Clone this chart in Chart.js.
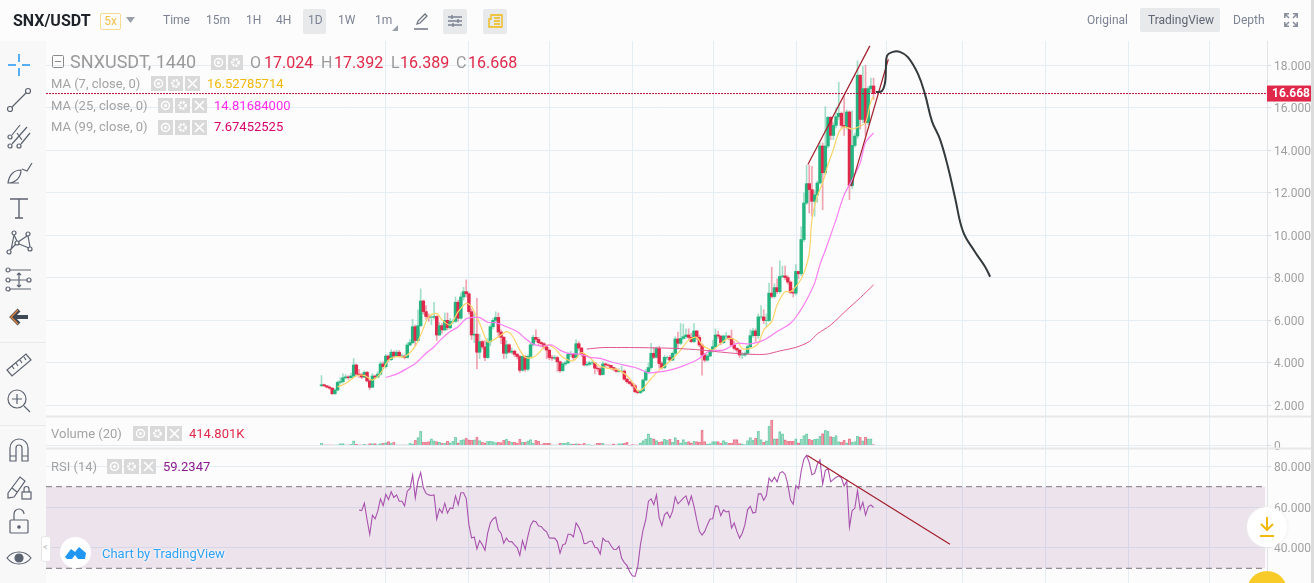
<!DOCTYPE html>
<html>
<head>
<meta charset="utf-8">
<title>SNX/USDT</title>
<script src="https://cdn.jsdelivr.net/npm/chart.js@4/dist/chart.umd.js"></script>
<style>
    html, body { margin: 0; padding: 0; background: #fcfcfc; overflow: hidden; }
    body { width: 1314px; height: 583px; position: relative; font-family: Roboto, "Noto Sans", sans-serif; }
    #chartCanvas { position: absolute; left: 0; top: 0; }
    .txt { position: absolute; white-space: nowrap; line-height: 1; }
    .top { color: #7b8394; font-size: 12px; top: 14px; }
    .box { position: absolute; border-radius: 2px; background: #e8e9eb; }
    .lbl { color: #a3a3a3; font-size: 13px; }
    .ohlc { font-size: 16px; color: #e0294a; top: 55px; }
    .ohlcKey { font-size: 16px; color: #9a9a9a; top: 55px; }
    .btn { position: absolute; width: 15px; height: 15px; background: #d9d9d9; }
    .btn svg { display: block; }
    #toolbar { position: absolute; left: 0; top: 41px; width: 46px; height: 542px; background: #f8f8f8; }
    #toolbar svg { position: absolute; left: 5px; width: 28px; height: 28px; fill: none; stroke: #5b6270; stroke-width: 1.2; }
    #toolbar hr { position: absolute; left: 0; width: 46px; margin: 0; border: 0; border-top: 1px solid #e9e9e9; }
    #scrollbar { position: absolute; left: 1311px; top: 0; width: 3px; height: 583px; background: #dcdcdc; }
</style>
</head>
<body>

<canvas id="chartCanvas" width="1314" height="583"></canvas>

<!-- top bar -->
<span class="txt" style="left:13px;top:13px;font-size:16px;font-weight:700;color:#1e2329">SNX/USDT</span>
<span class="txt" style="left:100px;top:13px;width:19px;height:15px;border:1px solid #f6dc8e;border-radius:2px;color:#f0c14b;font-size:12px;line-height:15px;text-align:center">5x</span>
<svg style="position:absolute;left:126px;top:17px" width="9" height="6"><path d="M0 0h9L4.5 6z" fill="#9aa0ab"/></svg>
<span class="txt top" style="left:163px">Time</span>
<span class="txt top" style="left:206px">15m</span>
<span class="txt top" style="left:246px">1H</span>
<span class="txt top" style="left:276px">4H</span>
<span class="box" style="left:303px;top:9px;width:23px;height:25px"></span>
<span class="txt top" style="left:308px">1D</span>
<span class="txt top" style="left:338px">1W</span>
<span class="txt top" style="left:375px">1m</span>
<svg style="position:absolute;left:392px;top:25px" width="6" height="6"><path d="M6 0v6H0z" fill="#9aa0ab"/></svg>
<svg style="position:absolute;left:412px;top:12px" width="18" height="18" fill="none" stroke="#6f7683" stroke-width="1.3"><path d="M5 12l1-3 7-7 2 2-7 7zM2 17h14"/></svg>
<span class="box" style="left:443px;top:9px;width:24px;height:25px"></span>
<svg style="position:absolute;left:447px;top:13px" width="16" height="16" stroke="#7b8394" stroke-width="1.4"><path d="M1 4h14M1 8h14M1 12h14"/><path d="M5 2v4M11 6v4M6 10v4" /></svg>
<span class="box" style="left:483px;top:9px;width:24px;height:25px"></span>
<svg style="position:absolute;left:487px;top:13px" width="16" height="16" fill="none" stroke="#f0b90b" stroke-width="1.3"><path d="M4 2h11v12H2V6h2zM7 5h6M7 8h6M7 11h6"/></svg>
<span class="txt top" style="left:1087px">Original</span>
<span class="box" style="left:1140px;top:8px;width:80px;height:24px"></span>
<span class="txt top" style="left:1148px;color:#5e6673">TradingView</span>
<span class="txt top" style="left:1233px">Depth</span>
<svg style="position:absolute;left:1284px;top:13px" width="14" height="14" fill="none" stroke="#8a909c" stroke-width="1.6"><path d="M0.8 5V0.8H5M9 0.8h4.2V5M13.2 9v4.2H9M5 13.2H0.8V9M1 1l4 4M13 1L9 5M13 13L9 9M1 13l4-4"/></svg>

<!-- drawing tools on the left -->
<div id="toolbar">
    <svg style="top:10px" viewBox="0 0 28 28" ><path d="M14 3v8M14 17v8M3 14h8M17 14h8" stroke="#2196f3" stroke-width="1.5"/></svg>
    <svg style="top:45px" viewBox="0 0 28 28"><circle cx="5" cy="23" r="2.5"/><circle cx="23" cy="5" r="2.5"/><path d="M7 21L21 7"/></svg>
    <svg style="top:81px" viewBox="0 0 28 28"><circle cx="5" cy="15" r="2"/><circle cx="5" cy="24" r="2"/><circle cx="14" cy="24" r="2"/><path d="M7 13L15 3M7 22L22 5M16 22L25 11M12 11l5 7"/></svg>
    <svg style="top:117px" viewBox="0 0 28 28"><path d="M3 25c1-8 6-13 13-13 0 7-5 13-13 13zM3 25h11M17 11l5 2 5-8"/></svg>
    <svg style="top:153px" viewBox="0 0 28 28"><path d="M5 5h18M14 5v19M10 24h8" stroke-width="1.4"/></svg>
    <svg style="top:188px" viewBox="0 0 28 28"><circle cx="9" cy="4" r="2"/><circle cx="23" cy="5" r="2"/><circle cx="4" cy="23" r="2"/><circle cx="25" cy="20" r="2"/><circle cx="12" cy="14" r="2"/><path d="M9 6l3 6M22 7l-9 6M6 21L9 6M14 15l10 4M23 7l2 11M5 21l6-6"/></svg>
    <svg style="top:225px" viewBox="0 0 28 28"><circle cx="3" cy="4" r="2"/><circle cx="3" cy="14" r="2"/><circle cx="3" cy="23" r="2"/><circle cx="24" cy="14" r="2"/><path d="M5 4h21M5 14h17M5 23h21M14 7v14M12 9l2-2 2 2M12 19l2 2 2-2"/></svg>
    <svg style="top:262px" viewBox="0 0 28 28"><path d="M23 14H9M14 7l-7 7 7 7" stroke="#3f4855" stroke-width="4"/><path d="M14 7l-7 7 7 7" stroke="#e8853c" stroke-width="1.4" transform="translate(-1 0)"/></svg>
    <hr style="top:301px">
    <svg style="top:309px" viewBox="0 0 28 28"><path d="M2 20L21 4l5 6L7 26zM7 16l2 3M11 13l2 3M15 10l2 3M19 7l2 3"/></svg>
    <svg style="top:345px" viewBox="0 0 28 28"><circle cx="12" cy="13" r="9"/><path d="M12 8v10M7 13h10M19 20l6 6"/></svg>
    <hr style="top:384px">
    <svg style="top:395px" viewBox="0 0 28 28"><path d="M5 25V12a9 9 0 0 1 18 0v13h-6V12a3 3 0 0 0-6 0v13zM5 20h6M17 20h6"/></svg>
    <svg style="top:431px" viewBox="0 0 28 28"><path d="M3 21L15 5l5 4L9 25l-6 1zM7 16l5 4"/><rect x="17" y="20" width="9" height="7"/><path d="M19 20v-3a2.5 2.5 0 0 1 5 0v3"/></svg>
    <svg style="top:466px" viewBox="0 0 28 28"><rect x="5" y="13" width="18" height="13" rx="1"/><path d="M9 13V7a5 5 0 0 1 10 0"/><circle cx="14" cy="20" r="1.2" fill="#5b6270"/></svg>
    <svg style="top:503px" viewBox="0 0 28 28"><path d="M2 14c6-8 18-8 24 0-6 8-18 8-24 0z"/><circle cx="14" cy="14" r="4" fill="#5b6270"/></svg>
</div>

<!-- pane legends -->
<svg style="position:absolute;left:52px;top:55px" width="12" height="13" fill="none" stroke="#8a8a8a"><rect x="0.5" y="0.5" width="11" height="12" rx="1"/><path d="M3 6.5h6"/></svg>
<span class="txt" style="left:70px;top:53px;font-size:18px;color:#9a9a9a">SNXUSDT, 1440</span>
<span class="txt ohlcKey" style="left:250px">O</span><span class="txt ohlc" style="left:264px">17.024</span>
<span class="txt ohlcKey" style="left:321px">H</span><span class="txt ohlc" style="left:334px">17.392</span>
<span class="txt ohlcKey" style="left:391px">L</span><span class="txt ohlc" style="left:400px">16.389</span>
<span class="txt ohlcKey" style="left:456px">C</span><span class="txt ohlc" style="left:468px">16.668</span>

<span class="txt lbl" style="left:51px;top:77px">MA (7, close, 0)</span>
<span class="txt" style="left:207px;top:77px;font-size:13px;color:#f0b90b">16.52785714</span>
<span class="txt lbl" style="left:51px;top:99px">MA (25, close, 0)</span>
<span class="txt" style="left:214px;top:99px;font-size:13px;color:#ff2bf0">14.81684000</span>
<span class="txt lbl" style="left:51px;top:120px">MA (99, close, 0)</span>
<span class="txt" style="left:214px;top:120px;font-size:13px;color:#d6006e">7.67452525</span>
<span class="txt lbl" style="left:51px;top:427px">Volume (20)</span>
<span class="txt" style="left:189px;top:427px;font-size:13px;color:#e0294a">414.801K</span>
<span class="txt lbl" style="left:51px;top:460px">RSI (14)</span>
<span class="txt" style="left:163px;top:460px;font-size:13px;color:#8a1a8e">59.2347</span>

<!-- TradingView badge -->
<div style="position:absolute;left:60px;top:537px;width:31px;height:31px;border-radius:50%;background:#fff"></div>
<svg style="position:absolute;left:65px;top:546px" width="21" height="14"><path d="M0 11l6-8 4 3 4-5 7 6-1 6H13l-3-4-3 4H2z" fill="#2196f3"/></svg>
<span class="txt" style="left:102px;top:547px;font-size:13px;color:#2ea1f5;text-shadow:0 0 3px #fff,0 0 3px #fff">Chart by TradingView</span>
<div style="position:absolute;left:41px;top:536px;width:8px;height:24px;background:#fff;border:1px solid #e6e6e6;border-radius:3px"></div>
<span class="txt" style="left:43px;top:543px;font-size:9px;color:#b5b5b5">&lt;</span>

<!-- jump-to-latest and support buttons -->
<div style="position:absolute;left:1247px;top:507px;width:40px;height:40px;border-radius:50%;background:#fff;box-shadow:0 0 4px #ececec"></div>
<svg style="position:absolute;left:1259px;top:516px" width="16" height="22" fill="none" stroke="#f0b90b" stroke-width="2"><path d="M8 1v13M2 8l6 6 6-6M1 20h14"/></svg>
<div style="position:absolute;left:1247px;top:571px;width:40px;height:40px;border-radius:50%;background:#f9cb28"></div>
<div id="scrollbar"></div>

<script>
// daily candles, oldest first (USDT)
const opens = [2.93,2.97,2.92,2.86,2.81,2.55,2.72,3.08,3.12,3.30,3.34,3.30,3.38,3.90,3.47,3.45,3.33,3.55,3.15,2.85,
    3.38,3.33,3.47,3.95,3.82,4.32,4.15,4.50,4.32,4.50,4.32,4.32,4.25,4.84,4.95,5.70,5.05,5.75,6.91,6.41,
    6.18,6.15,6.15,6.18,5.31,5.75,5.55,6.00,5.65,5.95,5.95,6.85,6.10,7.10,7.35,7.25,6.41,5.31,5.35,4.50,
    5.00,4.75,4.25,4.99,5.70,6.00,6.14,5.45,5.20,4.45,4.85,4.50,4.55,4.40,4.30,3.65,4.30,3.70,4.30,4.85,
    5.20,5.10,4.95,4.90,4.75,4.60,4.25,4.22,4.25,4.05,3.63,3.95,4.00,4.40,4.40,4.25,4.90,4.70,4.40,3.90,
    3.93,4.00,4.00,3.75,3.72,3.45,3.95,3.90,3.88,3.78,3.70,3.60,3.60,3.61,3.23,3.11,3.03,2.92,2.64,2.60,
    2.68,3.19,3.58,3.78,4.45,4.26,4.68,3.97,3.78,4.26,4.26,4.13,4.45,5.12,4.92,5.15,5.23,5.31,5.20,5.00,
    5.50,5.20,4.84,4.37,4.13,4.32,4.60,4.76,5.31,5.26,4.95,5.26,5.26,5.15,4.84,4.68,4.60,4.37,4.37,4.45,
    4.76,5.28,5.50,5.28,6.16,6.16,5.99,5.99,7.28,7.12,7.54,7.35,8.06,8.09,8.01,7.80,7.31,7.28,8.30,8.19,
    9.80,11.52,12.43,12.15,11.60,11.90,12.46,14.20,12.94,14.20,15.55,14.70,15.17,15.58,15.74,15.17,15.10,15.80,12.34,14.23,
    14.67,17.53,15.45,16.90,15.30,16.90,17.024];
const closes = [2.97,2.92,2.86,2.81,2.55,2.72,3.08,3.12,3.30,3.34,3.30,3.38,3.90,3.47,3.45,3.33,3.55,3.15,2.85,3.38,
    3.33,3.47,3.95,3.82,4.32,4.15,4.50,4.32,4.50,4.32,4.32,4.25,4.84,4.95,5.70,5.05,5.75,6.91,6.41,6.18,
    6.15,6.15,6.18,5.31,5.75,5.55,6.00,5.65,5.95,5.95,6.85,6.10,7.10,7.35,7.25,6.41,5.31,5.35,4.50,5.00,
    4.75,4.25,4.99,5.70,6.00,6.14,5.45,5.20,4.45,4.85,4.50,4.55,4.40,4.30,3.65,4.30,3.70,4.30,4.85,5.20,
    5.10,4.95,4.90,4.75,4.60,4.25,4.22,4.25,4.05,3.63,3.95,4.00,4.40,4.40,4.25,4.90,4.70,4.40,3.90,3.93,
    4.00,4.00,3.75,3.72,3.45,3.95,3.90,3.88,3.78,3.70,3.60,3.60,3.61,3.23,3.11,3.03,2.92,2.64,2.60,2.68,
    3.19,3.58,3.78,4.45,4.26,4.68,3.97,3.78,4.26,4.26,4.13,4.45,5.12,4.92,5.15,5.23,5.31,5.20,5.00,5.50,
    5.20,4.84,4.37,4.13,4.32,4.60,4.76,5.31,5.26,4.95,5.26,5.26,5.15,4.84,4.68,4.60,4.37,4.37,4.45,4.76,
    5.28,5.50,5.28,6.16,6.16,5.99,5.99,7.28,7.12,7.54,7.35,8.06,8.09,8.01,7.80,7.31,7.28,8.30,8.19,9.80,
    11.52,12.43,12.15,11.60,11.90,12.46,14.20,12.94,14.20,15.55,14.70,15.17,15.58,15.74,15.17,15.10,15.80,12.34,14.23,14.67,
    17.53,15.45,16.90,15.30,16.90,17.024,16.668];
const highs = [3.40,3.00,2.93,2.90,2.83,2.78,3.15,3.30,3.48,3.45,3.40,3.52,4.20,3.95,3.70,3.50,3.62,3.60,3.20,3.50,
    3.42,3.58,4.05,4.05,4.40,4.38,4.62,4.55,4.60,4.58,4.42,4.38,4.95,5.10,6.05,5.78,6.50,7.48,6.95,6.70,
    6.30,6.25,6.85,6.22,5.90,5.85,6.35,6.35,6.10,6.05,7.10,6.95,7.28,7.55,7.90,7.30,6.55,6.30,7.04,5.35,
    5.05,5.05,5.15,5.80,6.10,6.40,6.35,5.55,5.25,5.05,4.90,4.70,4.60,4.45,4.35,4.38,4.35,4.38,4.95,5.30,
    5.55,5.20,5.00,4.95,4.80,4.62,4.35,4.35,4.30,4.10,4.02,4.08,4.48,4.55,4.45,5.10,5.00,4.72,4.45,4.05,
    4.08,4.10,4.02,3.82,3.78,4.05,4.00,3.95,3.90,3.80,3.75,3.72,3.85,3.68,3.28,3.15,3.08,2.98,2.70,2.72,
    3.25,3.70,4.00,4.92,4.72,4.75,4.78,4.05,4.35,4.32,4.35,4.52,5.22,5.45,5.85,5.82,5.60,5.60,5.40,5.85,
    5.52,5.30,4.90,4.45,4.40,4.65,5.05,5.60,5.50,5.28,5.30,5.42,5.30,5.55,5.00,4.72,4.65,4.48,4.52,4.82,
    5.55,5.62,5.60,6.30,6.70,6.50,6.30,7.75,8.50,7.72,7.95,8.80,8.55,8.55,8.10,7.85,7.50,8.62,8.30,10.40,
    12.00,13.30,13.30,13.25,12.10,12.55,14.35,14.35,16.05,15.60,15.60,15.30,16.00,17.20,15.80,16.55,15.90,15.85,15.85,14.80,
    18.20,17.55,17.95,18.00,17.00,17.40,17.392];
const lows = [2.88,2.88,2.82,2.75,2.50,2.50,2.68,3.00,3.05,3.25,3.22,3.28,3.35,3.42,3.30,3.25,3.30,3.10,2.75,2.85,
    3.27,3.30,3.42,3.72,3.75,4.05,4.10,4.25,4.28,4.28,4.25,4.18,4.22,4.80,4.90,4.80,5.00,5.70,6.30,6.05,
    5.95,5.80,6.05,5.05,5.28,5.40,5.50,5.55,5.60,5.85,5.90,5.95,6.05,6.95,7.10,6.30,5.10,4.95,3.71,4.20,
    4.65,4.10,4.20,4.80,5.60,5.95,5.20,4.90,4.20,4.22,4.45,4.42,4.30,4.18,3.55,3.60,3.60,3.62,4.20,4.80,
    5.00,4.85,4.75,4.65,4.20,4.15,4.12,4.15,3.60,3.55,3.60,3.88,3.95,4.30,4.15,4.20,4.60,4.30,3.85,3.85,
    3.88,3.92,3.48,3.60,3.40,3.42,3.80,3.80,3.70,3.62,3.55,3.55,3.55,3.18,3.05,2.98,2.85,2.58,2.55,2.55,
    2.65,3.15,3.50,3.70,4.20,4.22,3.75,3.70,3.72,4.15,4.08,4.10,4.40,4.65,4.85,5.10,5.15,5.10,4.95,4.95,
    5.10,4.75,3.42,4.05,4.08,4.30,4.50,4.70,5.15,4.85,4.90,5.12,5.08,4.80,4.60,4.50,4.25,4.20,4.30,4.40,
    4.72,5.20,5.00,5.15,6.05,5.85,5.70,5.95,7.05,7.05,7.25,7.28,8.00,7.90,7.70,7.25,7.10,7.20,7.95,8.10,
    9.70,11.45,11.05,10.90,10.90,11.55,12.40,11.20,12.85,14.10,14.50,14.50,15.05,15.45,15.05,14.70,15.00,11.68,12.20,14.15,
    14.55,15.00,15.30,14.70,15.20,16.70,16.389];

// traded volume per candle, in thousands
const volumes = [930,270,270,270,270,270,270,800,800,270,270,530,1860,530,270,270,530,270,800,800,
    800,400,800,930,1200,1600,930,1330,270,270,270,270,270,930,670,2130,3190,5720,1330,1330,
    1600,2660,1860,1600,1330,930,930,1730,1060,1730,3330,1060,2130,2390,2930,2260,2130,2260,3330,2000,
    1330,1060,1730,1730,1600,1200,1330,1200,2130,2530,1730,1330,1330,930,2530,1330,1330,1860,2390,930,
    2130,1730,400,930,930,930,270,270,270,930,930,930,1330,670,530,800,670,400,930,400,
    400,130,270,930,930,930,270,270,270,670,270,800,800,930,1330,130,400,270,270,1060,
    2000,2660,4660,2930,2660,2000,1330,1600,2530,2130,2530,1330,3190,2130,1060,2390,1330,1600,1060,1730,
    1600,1330,6120,1600,670,800,1600,1600,1600,930,2000,1330,930,930,2390,2390,800,670,400,2000,
    3190,2130,2930,5720,2390,1330,1860,7710,10110,2660,2660,5590,4660,2260,1730,1730,1730,2660,1060,2530,
    3990,4660,2530,2130,2530,2660,3720,4790,6120,5720,3590,3330,3990,1600,1330,2130,1060,2660,1330,1600,
    3720,3330,1860,3330,2660,2660,414.801];

// moving averages, read at the candle numbers listed beside them
const ma7Days = [6,9,13,16,19,22,25,28,31,35,38,40,43,45,48,51,54,56,59,62,64,67,69,71,74,76,79,81,84,87,90,94,97,100,103,107,111,115,118,120,122,
    126,129,132,134,137,140,142,144,146,149,152,155,157,160,163,165,168,170,173,175,178,180,182,183,185,187,189,191,193,195,198,201,203,205,206];
const ma7Values = [2.87,3.03,3.38,3.41,3.19,3.50,4.13,4.29,4.29,4.79,5.62,6.17,6.33,6.02,5.78,6.41,6.80,6.65,5.86,4.99,5.07,5.31,5.47,5.31,4.60,4.26,4.26,4.45,4.84,4.68,4.26,4.10,4.48,4.26,3.90,3.74,3.66,3.27,2.69,2.79,3.11,
    3.66,3.97,4.32,4.60,5.07,5.20,4.84,4.68,4.60,4.92,5.15,5.04,4.68,4.68,4.92,5.55,5.94,6.73,7.35,7.35,7.75,8.22,9.16,10.73,11.84,12.47,13.33,14.04,14.82,15.10,15.00,15.14,15.30,16.30,16.53];
const ma25Days = [24,28,32,35,39,42,45,48,51,54,57,59,62,65,69,73,76,79,82,86,89,92,97,100,104,108,113,117,120,122,
    125,130,135,140,145,150,155,160,165,170,175,178,181,184,186,188,192,195,198,201,203,206];
const ma25Values = [3.31,3.47,3.74,3.97,4.45,4.76,5.15,5.47,5.70,6.07,6.14,6.13,5.91,5.89,5.70,5.47,5.15,4.88,4.79,4.84,4.60,4.45,4.40,4.26,4.21,4.05,3.89,3.78,3.63,3.53,
    3.56,3.66,3.86,4.13,4.57,4.60,4.92,4.89,5.07,5.47,5.86,6.33,6.96,7.75,8.62,9.30,10.74,11.90,12.60,13.40,14.37,14.82];
const ma99Days = [99,105,110,115,122,132,142,148,154,161,166,171,177,182,185,190,196,201,206];
const ma99Values = [4.65,4.72,4.72,4.72,4.71,4.68,4.60,4.52,4.45,4.40,4.41,4.56,4.73,5.00,5.36,5.78,6.49,7.06,7.67];

// RSI (14), first value belongs to candle number 14
const rsiFirstDay = 14;
const rsiValues = [58.6,58.3,61.9,53.8,46.7,56.0,54.2,58.0,64.0,60.7,66.3,63.7,67.5,64.7,66.0,62.9,62.9,60.6,67.8,69.0,
    75.7,64.5,72.8,76.9,69.5,66.7,66.0,65.7,66.0,54.2,59.1,57.1,61.9,57.1,59.6,59.3,65.5,61.1,67.0,67.0,
    64.2,51.4,44.9,45.4,39.5,43.6,41.6,38.9,47.2,52.2,54.2,55.1,48.9,47.2,42.3,44.8,43.0,43.1,41.5,40.2,
    36.4,43.6,39.3,45.6,51.0,53.2,52.8,50.7,50.5,48.9,47.9,44.9,44.8,44.8,43.1,37.4,41.5,42.0,46.7,46.7,
    45.4,52.2,50.2,47.2,42.1,42.3,43.3,43.3,40.3,40.0,37.0,44.8,43.3,43.3,41.2,39.3,39.2,40.8,34.9,32.8,
    31.3,28.3,26.3,26.0,30.8,41.5,48.9,53.8,62.9,64.0,61.2,66.0,54.7,50.9,56.3,57.5,54.7,58.0,65.0,61.6,
    62.9,64.4,65.5,61.2,65.4,60.4,53.8,48.1,46.3,48.1,51.4,54.2,54.3,60.6,60.4,55.8,58.6,57.6,58.0,49.7,
    52.2,48.1,44.8,47.2,51.4,58.8,60.4,57.1,57.5,66.5,66.5,63.4,65.7,74.2,72.4,74.7,72.4,76.7,77.4,76.0,
    71.1,63.4,61.4,70.6,69.0,77.7,83.5,85.3,81.8,75.9,76.5,81.0,83.1,71.3,78.0,78.8,72.4,73.6,74.6,75.2,
    74.4,70.3,72.8,50.2,58.3,59.4,68.1,58.8,62.4,56.1,60.1,61.1,59.8];

// lines drawn by hand on the chart
const upperChannelDays = [181.5, 204.6];
const upperChannelPrices = [13.33, 18.91];
const lowerChannelDays = [197.7, 211.5];
const lowerChannelPrices = [12.31, 18.28];
const sketchDays = [206.9,209.1,210.3,210.6,211,213.2,215.8,218.8,222.6,225.2,227.8,230.8,233.8,236.4,239.4,243.8,247.6,249.5];
const sketchPrices = [16.74,16.79,17.20,17.81,18.44,18.63,18.63,18.38,17.58,16.63,15.36,14.51,13.19,11.77,10.17,9.23,8.52,8.05];
const rsiTrendDays = [181.3, 234.5];
const rsiTrendValues = [85.3, 41.8];

// axes
const lastPrice = 16.668;
const priceTicks = [2,4,6,8,10,12,14,16,18];
const volumeTicks = [0];
const rsiTicks = [40,60,80];
const rsiBandLevels = [70,30];
const monthGridDays = [23.7,54.7,84.9,115.9,146.1,177.4,211,239,270.3,301,331.5];
const dayRange = [-102.8, 352.8];

const GREEN = "#25b480";
const RED = "#e0294a";

function pairs(xs, ys) {
    return xs.map((x, i) => ({ x: x, y: ys[i] }));
}

function lineSet(data, yAxisID, color, width, order, extra) {
    return Object.assign({
        type: "line", data: data, yAxisID: yAxisID, borderColor: color, borderWidth: width,
        pointRadius: 0, tension: 0, fill: false, order: order
    }, extra || {});
}

const candleDays = closes.map((c, i) => i);
const isUp = candleDays.map(i => closes[i] >= opens[i]);
const rsiPoints = rsiValues.map((v, i) => ({ x: rsiFirstDay + i, y: v }));

const bodies = {
    type: "bar", yAxisID: "price", order: 6, grouped: false, barThickness: 2.8,
    data: candleDays.map(i => ({ x: i, y: [opens[i], closes[i]] })),
    backgroundColor: isUp.map(u => u ? GREEN : RED)
};
const wicks = {
    type: "bar", yAxisID: "price", order: 7, grouped: false, barThickness: 1,
    data: candleDays.map(i => ({ x: i, y: [lows[i], highs[i]] })),
    backgroundColor: isUp.map(u => u ? "rgba(37,180,128,0.42)" : "rgba(224,41,74,0.42)")
};
const volumeBars = {
    type: "bar", yAxisID: "volume", order: 8, grouped: false, barThickness: 2.4,
    data: candleDays.map(i => ({ x: i, y: volumes[i] })),
    backgroundColor: isUp.map(u => u ? "rgba(37,180,128,0.34)" : "rgba(224,41,74,0.34)"),
    borderColor: isUp.map(u => u ? "rgba(37,180,128,0.5)" : "rgba(224,41,74,0.5)"),
    borderWidth: 0.5
};

const datasets = [
    lineSet(pairs(sketchDays, sketchPrices), "price", "#333a3d", 2, 0, { tension: 0.4 }),
    lineSet(pairs(upperChannelDays, upperChannelPrices), "price", "#a11d2a", 1.2, 1),
    lineSet(pairs(lowerChannelDays, lowerChannelPrices), "price", "#a11d2a", 1.2, 1),
    lineSet(pairs(dayRange, [lastPrice, lastPrice]), "price", "#b5103a", 1, 2, { borderDash: [2, 1] }),
    lineSet(pairs(ma99Days, ma99Values), "price", "#e0558f", 1, 3, { tension: 0.3 }),
    lineSet(pairs(ma25Days, ma25Values), "price", "#fb7df2", 1.2, 4, { tension: 0.3 }),
    lineSet(pairs(ma7Days, ma7Values), "price", "#fbd468", 1.2, 5, { tension: 0.3 }),
    bodies,
    wicks,
    volumeBars,
    lineSet(pairs(rsiTrendDays, rsiTrendValues), "rsi", "#a11d2a", 1.2, 9),
    lineSet(rsiPoints, "rsi", "#a852ad", 1.1, 10),
    lineSet(pairs([dayRange[0], 352.2], [rsiBandLevels[0], rsiBandLevels[0]]), "rsi", "#7f7480", 1, 11,
        { borderDash: [6, 4], fill: "+1", backgroundColor: "rgba(135,60,135,0.13)" }),
    lineSet(pairs([dayRange[0], 352.2], [rsiBandLevels[1], rsiBandLevels[1]]), "rsi", "#7f7480", 1, 12,
        { borderDash: [6, 4] })
];

function paneAxis(weight, stackWeight, min, max, tickValues, format) {
    return {
        type: "linear", position: "right", stack: "panes", stackWeight: stackWeight, weight: weight,
        min: min, max: max,
        afterBuildTicks: scale => { scale.ticks = tickValues.map(v => ({ value: v })); },
        afterFit: scale => { scale.width = 47; scale.paddingTop = 0; scale.paddingBottom = 0; },
        grid: { color: "#e3edf5", tickColor: "#d9dcdf", tickLength: 4, lineWidth: 1 },
        border: { color: "#e2e3e5", width: 1 },
        ticks: { color: "#a0a0a0", padding: 3, labelOffset: 1.5, autoSkip: false, maxRotation: 0, font: { family: "Roboto", size: 12 }, callback: format }
    };
}

// separators between panes and the tag with the last price
const paneFrame = {
    id: "paneFrame",
    afterDraw(chart) {
        const ctx = chart.ctx;
        const area = chart.chartArea;
        ctx.save();
        ctx.fillStyle = "#e8e8e9";
        [chart.scales.price.bottom, chart.scales.volume.bottom].forEach(y => {
            ctx.fillRect(area.left, y - 0.5, 1314 - area.left, 2);
        });
        const tagY = chart.scales.price.getPixelForValue(lastPrice);
        ctx.fillStyle = RED;
        ctx.fillRect(area.right, tagY - 8, 44, 16);
        ctx.fillStyle = "#fff";
        ctx.font = "bold 12px Roboto";
        ctx.textBaseline = "middle";
        ctx.fillText(lastPrice.toFixed(3), area.right + 5, tagY + 0.5);
        ctx.restore();
    }
};

const chart = new Chart(document.getElementById("chartCanvas").getContext("2d"), {
    data: { datasets: datasets },
    plugins: [paneFrame],
    options: {
        responsive: false,
        animation: false,
        events: [],
        layout: { padding: { left: 46, top: 41, right: 0, bottom: 0 } },
        plugins: { legend: { display: false }, tooltip: { enabled: false } },
        scales: {
            x: {
                type: "linear", min: dayRange[0], max: dayRange[1], offset: false,
                afterBuildTicks: scale => { scale.ticks = monthGridDays.map(v => ({ value: v })); },
                afterFit: scale => { scale.height = 0; scale.paddingLeft = 0; scale.paddingRight = 0; },
                grid: { color: "#e3edf5", drawTicks: false, offset: false },
                border: { display: false },
                ticks: { display: false }
            },
            price: paneAxis(0, 375, 1.50, 19.14, priceTicks, v => v.toFixed(3)),
            volume: paneAxis(1, 32, -960, 11840, volumeTicks, v => String(v)),
            rsi: paneAxis(2, 135, 22.8, 88.97, rsiTicks, v => v.toFixed(4))
        }
    }
});

// small view / settings / remove buttons next to each legend line
const legendButtons = [[211,55,2],[151,76,3],[158,98,3],[158,120,3],[133,426,3],[107,459,3]];
legendButtons.forEach(([left, top, count]) => {
    for (let n = 0; n < count; n++) {
        const b = document.createElement("span");
        b.className = "btn";
        b.style.left = (left + n * 17) + "px";
        b.style.top = top + "px";
        const glyph = n === 0 ? '<circle cx="7.5" cy="7.5" r="4" fill="none" stroke="#fff" stroke-width="1.5"/><circle cx="7.5" cy="7.5" r="1.5" fill="#fff"/>'
            : n === 1 ? '<circle cx="7.5" cy="7.5" r="3.2" fill="none" stroke="#fff" stroke-width="2.4" stroke-dasharray="2 1"/>'
            : '<path d="M3 3l9 9M12 3l-9 9" stroke="#fff" stroke-width="1.6"/>';
        b.innerHTML = '<svg width="15" height="15">' + glyph + '</svg>';
        document.body.appendChild(b);
    }
});
</script>
</body>
</html>
